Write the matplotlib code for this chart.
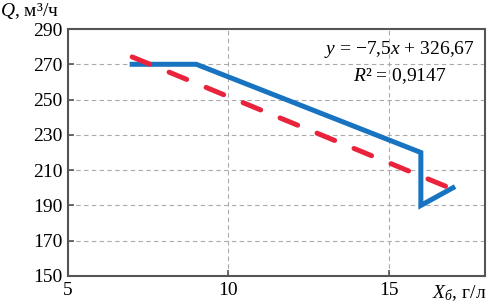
import matplotlib.pyplot as plt
import numpy as np

# data
x_obs = [7, 9, 16, 16, 17]
q_obs = [270, 270, 220, 190, 200]
trend_slope = -7.5
trend_icept = 326.67
trend_x = [7, 17]

plt.rcParams['font.family'] = ['Liberation Serif', 'DejaVu Serif']
plt.rcParams['mathtext.fontset'] = 'custom'
plt.rcParams['mathtext.rm'] = 'Liberation Serif'
plt.rcParams['mathtext.it'] = 'Liberation Serif:italic'

fig = plt.figure(figsize=(4.89, 3.05), dpi=100)
ax = fig.add_axes([68 / 489, 29 / 305, 417 / 489, 247 / 305])

ax.plot(x_obs, q_obs, color='#1874c0', lw=3.6, solid_joinstyle='miter', zorder=3)
tx = np.array(trend_x)
ax.plot(tx, trend_slope * tx + trend_icept, color='#e8233b', lw=3.6,
        dashes=(3.8, 4.2), dash_capstyle='round', zorder=4)

ax.set_xlim(5, 18)
ax.set_ylim(150, 290)
ax.set_xticks([5, 10, 15])
ax.set_yticks(range(150, 291, 20))
ax.tick_params(direction='in', length=4, width=1.2, color='#555555',
               labelsize=14, pad=4)
for s in ax.spines.values():
    s.set_color('#555555')
    s.set_linewidth(1.5)

ax.grid(True, color='#aaaaaa', ls=(0, (4, 3)), lw=0.8)
ax.set_axisbelow(True)

ax.text(0.975, 0.915, r'$y$ = −7,5$x$ + 326,67', transform=ax.transAxes,
        ha='right', va='center', fontsize=14)
ax.text(0.796, 0.81, r'$R$² = 0,9147', transform=ax.transAxes,
        ha='center', va='center', fontsize=14)

fig.text(0, 1 - 11 / 305, r'$Q$, м³/ч', ha='left', va='center', fontsize=14)
fig.text(432 / 489, 1 - 293 / 305, r'$X_{б}$, г/л', ha='left', va='center',
         fontsize=14)

fig.savefig('out.png', dpi=100)
